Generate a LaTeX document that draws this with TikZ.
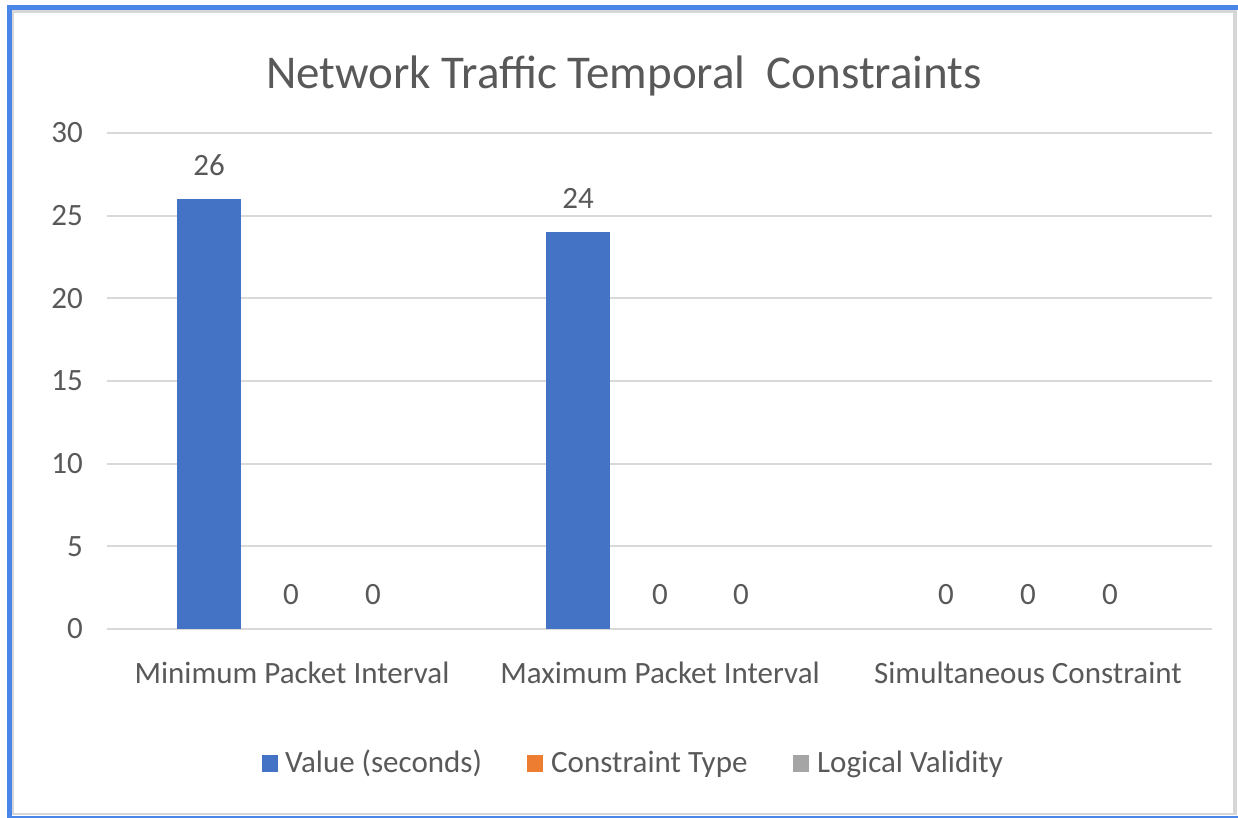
\documentclass[tikz,border=0pt]{standalone}
\usepackage{fontspec}
\setmainfont{Carlito}
\definecolor{txt}{RGB}{89,89,89}
\definecolor{gridc}{RGB}{217,217,217}
\definecolor{barblue}{RGB}{68,114,196}
\definecolor{barorange}{RGB}{237,125,49}
\definecolor{bargray}{RGB}{165,165,165}
\definecolor{frameblue}{RGB}{74,134,232}
\definecolor{framegray}{RGB}{214,214,214}
\begin{document}
\begin{tikzpicture}[x=1pt,y=-1pt,
  lbl/.style={text=txt, font=\fontsize{31}{36}\selectfont, inner sep=0pt},
  ttl/.style={text=txt, font=\fontsize{47}{56}\selectfont, inner sep=0pt},
  gridline/.style={draw=gridc, line width=2pt},
  barbox/.style={fill=barblue, draw=none},
  keybox/.style={minimum width=16pt, minimum height=17pt, inner sep=0pt, draw=none}]
\useasboundingbox (0,0) rectangle (1238,818);
\fill[white] (0,0) rectangle (1238,818);
% frame
\fill[framegray] (12,10) rectangle (1237,815);
\fill[white] (14,13) rectangle (1233,813);
\fill[frameblue] (7,5) rectangle (12,818);
\fill[frameblue] (7,5) rectangle (1238,10);
\fill[frameblue] (7,816) rectangle (1238,818);
% title
\node[ttl] (title) at (624,76) {Network Traffic Temporal\ \ Constraints};
% grid and y labels
\foreach \v/\n in {0/g0,5/g5,10/g10,15/g15,20/g20,25/g25,30/g30}{
  \coordinate (\n l) at (107,{629-\v*16.533});
  \coordinate (\n r) at (1212,{629-\v*16.533});
  \draw[gridline] (\n l) -- (\n r);
  \node[lbl, anchor=east] (y\n) at (83,{629-\v*16.533}) {\v};
}
% bars
\node[barbox, minimum width=64pt, minimum height={26*16.533pt}, inner sep=0pt, anchor=south] (bar1) at (209,629) {};
\node[barbox, minimum width=64pt, minimum height={24*16.533pt}, inner sep=0pt, anchor=south] (bar2) at (578,629) {};
% data labels
\node[lbl] (v1) at (209,165) {26};
\node[lbl] (v2) at (578,198) {24};
\node[lbl] (z1) at (291,595) {0};
\node[lbl] (z2) at (373,595) {0};
\node[lbl] (z3) at (660,595) {0};
\node[lbl] (z4) at (741,595) {0};
\node[lbl] (z5) at (946,595) {0};
\node[lbl] (z6) at (1028,595) {0};
\node[lbl] (z7) at (1110,595) {0};
% category labels
\node[lbl] (c1) at (292,673) {Minimum Packet Interval};
\node[lbl] (c2) at (660,673) {Maximum Packet Interval};
\node[lbl] (c3) at (1028,673) {Simultaneous Constraint};
% legend
\node[keybox, fill=barblue] (k1) at (270,763) {};
\node[lbl, anchor=base west] (l1) at (285,772) {Value (seconds)};
\node[keybox, fill=barorange] (k2) at (535,763) {};
\node[lbl, anchor=base west] (l2) at (551,772) {Constraint Type};
\node[keybox, fill=bargray] (k3) at (801,763) {};
\node[lbl, anchor=base west] (l3) at (817,772) {Logical Validity};
\end{tikzpicture}
\end{document}
